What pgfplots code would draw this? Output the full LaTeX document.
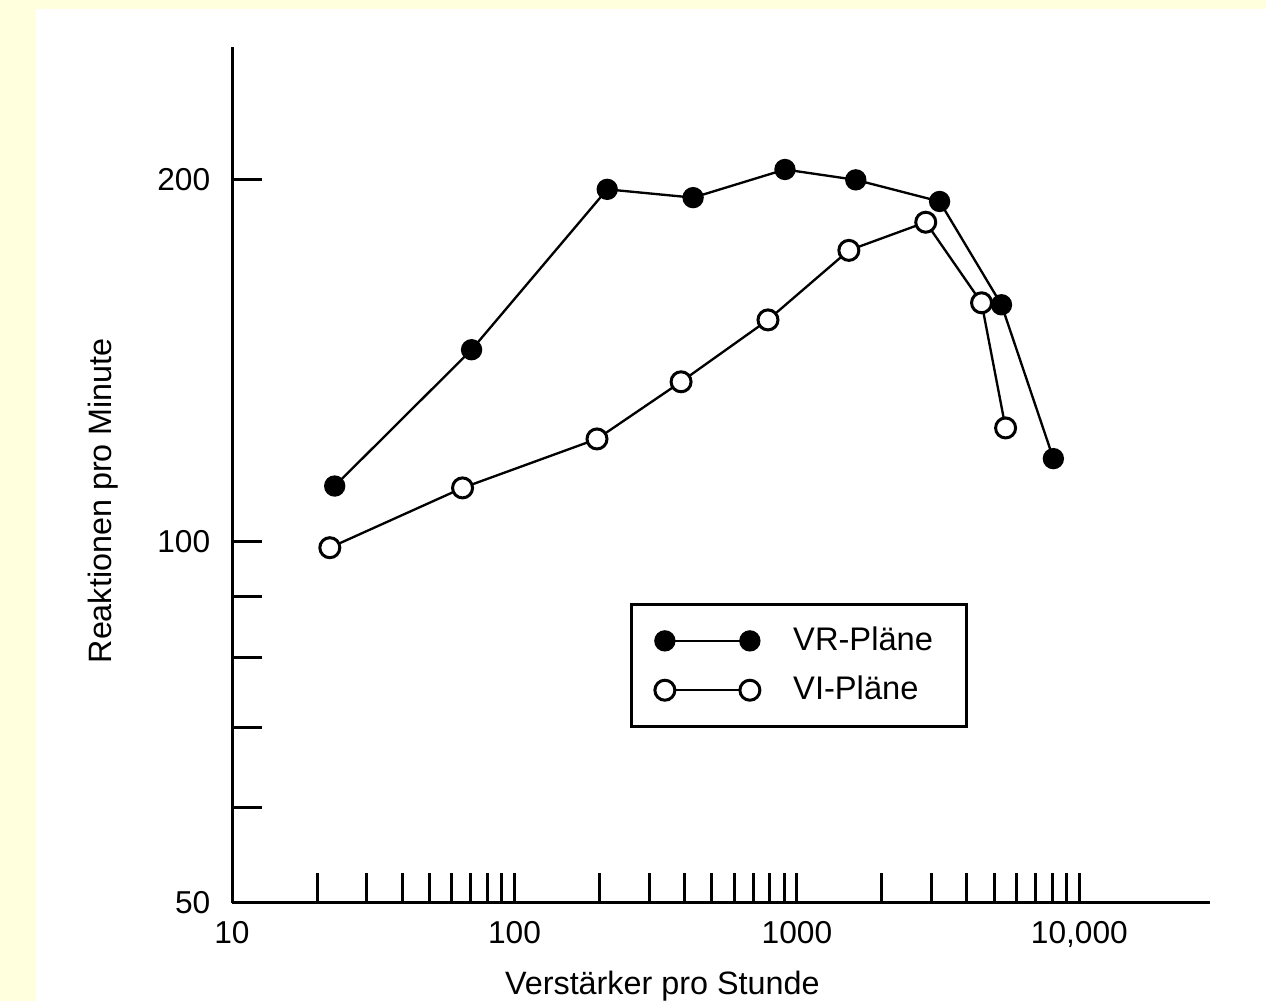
\documentclass[border=0pt]{standalone}
\usepackage{pgfplots}
\pgfplotsset{compat=1.18}
\usepackage{fontspec}
\setmainfont{Liberation Sans}
\definecolor{paper}{RGB}{255,255,222}

% Verstaerker pro Stunde / Reaktionen pro Minute
\pgfplotstableread{
x    y
23.1 111.2
70.5 144.4
213  196.4
429  193.3
907  204.0
1616 200.0
3200 191.9
5300 157.4
8090 117.2
}\vrdata
\pgfplotstableread{
x    y
22.2 98.8
65.5 110.8
196  121.7
389  135.8
790  152.9
1527 174.7
2858 184.4
4505 158.0
5480 124.3
}\vidata

\begin{document}
\begin{tikzpicture}
\useasboundingbox (0pt,0pt) rectangle (379.8pt,-300.3pt);
\fill[paper] (0pt,0pt) rectangle (379.8pt,-300.3pt);
\fill[white] (10.8pt,-2.7pt) rectangle (379.8pt,-300.3pt);
\begin{axis}[
  at={(69.6pt,-270.9pt)}, anchor=south west,
  scale only axis, width=293.4pt, height=256.8pt,
  xmode=log, ymode=log,
  xmin=10, xmax=29000, ymin=50, ymax=258,
  clip=false,
  axis lines*=left,
  axis line style={-, line width=0.9pt},
  tick align=inside,
  major tick length=9pt, minor tick length=9pt,
  tick style={line width=0.9pt, black},
  xtick={10,100,1000,10000},
  xticklabels={10,100,1000,{10,000}},
  minor xtick={20,30,40,50,60,70,80,90,200,300,400,500,600,700,800,900,2000,3000,4000,5000,6000,7000,8000,9000},
  ytick={50,60,70,80,90,100,200},
  yticklabels={50,,,,,100,200},
  minor ytick={},
  ticklabel style={font=\fontsize{9.5}{11}\selectfont},
  xticklabel style={yshift=-2pt},
  yticklabel style={xshift=-3pt},
  xlabel={Verstärker pro Stunde},
  ylabel={Reaktionen pro Minute},
  label style={font=\fontsize{9.7}{11}\selectfont},
  xlabel style={at={(axis description cs:0.44,0)}, anchor=north, yshift=-17pt},
  ylabel style={at={(axis description cs:-0.132,0.47)}, anchor=center},
  legend style={at={(axis description cs:0.407,0.350)}, anchor=north west,
    draw=black, line width=0.9pt, inner xsep=7pt, inner ysep=4.5pt,
    font=\fontsize{9.8}{11}\selectfont, row sep=2.2pt,
    nodes={inner xsep=3pt}},
  legend cell align=left,
  legend image code/.code={\draw[#1, line width=0.7pt] plot coordinates {(0pt,0pt) (25.5pt,0pt)};},
]
\addplot[black, line width=0.7pt, mark=*, mark size=2.9pt, mark options={fill=black, line width=0.6pt}] table[x=x, y=y] {\vrdata};
\addlegendentry{\hspace{7pt}VR-Pläne\hspace{9pt}}
\addplot[black, line width=0.7pt, mark=*, mark size=3pt, mark options={fill=white, line width=0.9pt}] table[x=x, y=y] {\vidata};
\addlegendentry{\hspace{7pt}VI-Pläne}
\end{axis}
\end{tikzpicture}
\end{document}
